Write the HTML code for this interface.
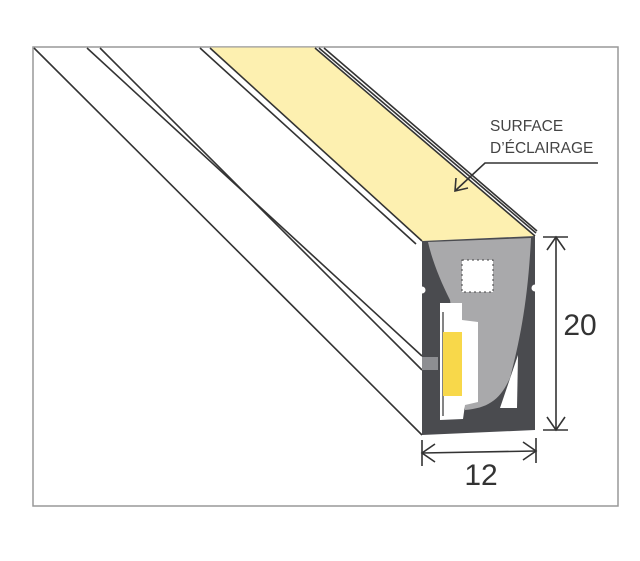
<!DOCTYPE html>
<html><head><meta charset="utf-8"><style>
html,body{margin:0;padding:0;background:#fff;}
svg{display:block;}
</style></head><body>
<svg width="640" height="561" viewBox="0 0 640 561" xmlns="http://www.w3.org/2000/svg">
<rect x="33" y="47" width="585" height="459" fill="#fff" stroke="#999" stroke-width="1.5"/>
<polygon points="210,47.5 315,47.5 535,236 422,241" fill="#fdf0b0"/>
<g stroke="#333" stroke-width="1.6" fill="none">
<line x1="210" y1="48" x2="422" y2="241"/>
<line x1="200" y1="48" x2="416" y2="244"/>
<line x1="315" y1="48" x2="535" y2="236"/>
<line x1="319" y1="48" x2="536" y2="233"/>
<line x1="324" y1="48" x2="537" y2="231"/>
<line x1="34" y1="48" x2="422" y2="435"/>
<line x1="87" y1="48" x2="422" y2="356"/>
<line x1="100" y1="48" x2="422" y2="370"/>
</g>
<polygon points="422,241 535,236 535,430 422,435" fill="#4a4b4f"/>
<path d="M428,242 L531,238 C528,300 520,340 510,378 C500,400 488,408 465,410 L450,300 C440,280 432,260 428,242 Z" fill="#a9a9ab"/>
<circle cx="422" cy="290" r="3.5" fill="#fff"/>
<circle cx="535" cy="288" r="3.5" fill="#fff"/>
<rect x="462" y="260" width="31" height="32" fill="#fff" stroke="#444" stroke-width="1" stroke-dasharray="2,3"/>
<polygon points="440,303 462,303 462,320 478,322 478,402 465,405 463,419 440,420" fill="#fff"/>
<line x1="443" y1="312" x2="443" y2="416" stroke="#333" stroke-width="1.2"/>
<rect x="443" y="332" width="19" height="64" fill="#f8d84a"/>
<rect x="422" y="357" width="16" height="13" fill="#8d8e92"/>
<polygon points="518,355 500,408 517,408" fill="#fff"/>
<g stroke="#333" stroke-width="1.6" fill="none">
<line x1="556" y1="237" x2="556" y2="430"/>
<line x1="543" y1="237" x2="568" y2="237"/>
<line x1="543" y1="430" x2="568" y2="430"/>
<polyline points="547,250 556,237 565,250"/>
<polyline points="547,417 556,430 565,417"/>
<line x1="422" y1="453" x2="536" y2="451"/>
<line x1="422" y1="440" x2="422" y2="466"/>
<line x1="536" y1="438" x2="536" y2="463"/>
<polyline points="435,444 422,453 435,462"/>
<polyline points="523,442 536,451 523,460"/>
<polyline points="598,163 485,163 456,190"/>
<polyline points="456,178 455,191 468,188"/>
</g>
<text x="580" y="335" font-family="Liberation Sans, sans-serif" font-size="30" fill="#333" text-anchor="middle">20</text>
<text x="481" y="485" font-family="Liberation Sans, sans-serif" font-size="30" fill="#333" text-anchor="middle">12</text>
<text x="490" y="131" font-family="Liberation Sans, sans-serif" font-size="15.5" fill="#444">SURFACE</text>
<text x="490" y="153" font-family="Liberation Sans, sans-serif" font-size="15.5" fill="#444">D’ÉCLAIRAGE</text>
</svg>
</body></html>
